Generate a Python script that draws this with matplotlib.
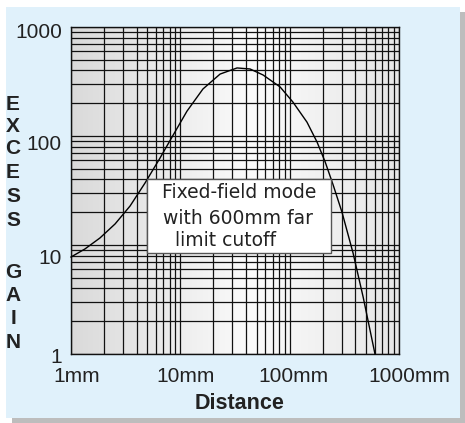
import numpy as np
import matplotlib
matplotlib.use("Agg")
import matplotlib.pyplot as plt
from matplotlib.patches import Rectangle
from matplotlib.ticker import LogLocator, NullFormatter, FixedLocator
from matplotlib.transforms import ScaledTranslation
from matplotlib.colors import LinearSegmentedColormap

# curve (distance in mm, excess gain)
dist_mm = [1.0, 1.34, 1.84, 2.53, 3.47, 4.75, 6.52, 8.4, 11.5, 16.1, 23.1, 33.0,
           43.4, 57.1, 81.7, 107, 144, 178, 211, 250, 301, 380, 470, 603]
gain = [7.76, 9.19, 11.6, 15.6, 22.8, 37.0, 62.8, 97.9, 169, 270, 370, 421,
        412, 363, 282, 205, 134, 88, 58, 35.5, 20.0, 8.44, 3.33, 1.0]

x_ticks = [1, 10, 100, 1000]
x_ticklabels = ['1mm', '10mm', '100mm', '1000mm']
y_ticks = [1, 10, 100, 1000]
y_ticklabels = ['1', '10', '100', '1000']
ylabel_letters = ['E', 'X', 'C', 'E', 'S', 'S', 'G', 'A', 'I', 'N']
note_lines = ['Fixed-field mode', 'with 600mm far', 'limit cutoff']

W, H = 465, 423
fig = plt.figure(figsize=(W / 100, H / 100), dpi=100, facecolor='white')

def px(x, y, w, h, **kw):
    # rectangle in figure pixels, y measured from top
    r = Rectangle((x / W, 1 - (y + h) / H), w / W, h / H,
                  transform=fig.transFigure, **kw)
    fig.patches.append(r)

# panel with drop shadow
px(12, 12, 453, 411, facecolor='#bdbdbd', edgecolor='none', zorder=-2)
px(6, 7, 454, 411, facecolor='#e0f1fb', edgecolor='none', zorder=-1)

ax = fig.add_axes([71 / W, 1 - 354 / H, 328 / W, 327 / H])
ax.set_xscale('log')
ax.set_yscale('log')
ax.set_xlim(1, 1000)
ax.set_ylim(1, 1000)

# grey gradient behind the grid
cmap = LinearSegmentedColormap.from_list(
    'bg', [(0, '#dadada'), (0.55, '#fbfbfb'), (1, '#e6e6e6')])
ax.imshow(np.linspace(0, 1, 256)[None, :], cmap=cmap, aspect='auto',
          extent=[0, 1, 0, 1], transform=ax.transAxes, zorder=0)

for axis in (ax.xaxis, ax.yaxis):
    axis.set_major_locator(FixedLocator(x_ticks))
    axis.set_minor_locator(LogLocator(base=10, subs=np.arange(2, 10)))
    axis.set_minor_formatter(NullFormatter())
ax.set_xticks(x_ticks, x_ticklabels)
ax.set_yticks(y_ticks, y_ticklabels)
ax.grid(which='both', color='#111111', lw=0.9)
ax.set_axisbelow(True)
ax.tick_params(which='both', length=0)
ax.tick_params(axis='x', pad=9, labelsize=15, labelcolor='#222222')
ax.tick_params(axis='y', pad=6.5, labelsize=15, labelcolor='#222222')
for lab in ax.get_xticklabels() + ax.get_yticklabels():
    lab.set_family('Liberation Sans')
for sp in ax.spines.values():
    sp.set_color('#111111')
    sp.set_linewidth(1.0)

x_shift = [6, 5, 4, 10]
y_shift = [1, 11, 6, 3]
for lab, dx in zip(ax.get_xticklabels(), x_shift):
    lab.set_transform(lab.get_transform() + ScaledTranslation(dx / 100, 0, fig.dpi_scale_trans))
for lab, dy in zip(ax.get_yticklabels(), y_shift):
    lab.set_transform(lab.get_transform() + ScaledTranslation(0, -dy / 100, fig.dpi_scale_trans))

ax.plot(dist_mm, gain, color='black', lw=1.0, zorder=3, clip_on=False)

# note box
ax.add_patch(Rectangle(((147 - 71) / 328, (354 - 253) / 327), 184 / 328, 74 / 327,
                       transform=ax.transAxes, facecolor='white',
                       edgecolor='#555555', lw=1.0, zorder=4))
note_pos = [(239, 193), (238, 218), (225, 240)]
for txt, (nx, ny) in zip(note_lines, note_pos):
    ax.text((nx - 71) / 328, (354 - ny) / 327, txt, transform=ax.transAxes,
            ha='center', va='center', fontsize=13.5, family='DejaVu Sans',
            color='#222222', zorder=5)

# vertical stacked axis title
letter_y = [105, 127, 149, 172, 196, 220, 272, 295, 318, 342]
for ch, ly in zip(ylabel_letters, letter_y):
    fig.text(13 / W, 1 - ly / H, ch, ha='center', va='center', fontsize=15,
             fontweight='bold', family='Liberation Sans', color='#222222')

fig.text(240 / W, 1 - 403 / H, 'Distance', ha='center', va='center',
         fontsize=15.5, fontweight='bold', family='Liberation Sans', color='#222222')

fig.savefig('out.png', dpi=100, facecolor=fig.get_facecolor())
